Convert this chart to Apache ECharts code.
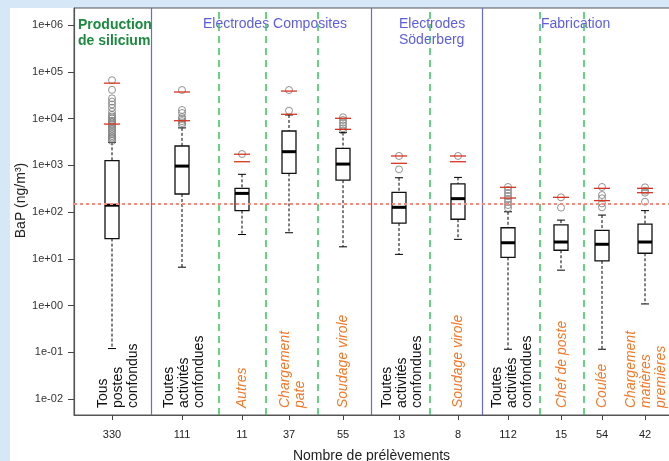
<!DOCTYPE html>
<html>
<head>
<meta charset="utf-8">
<script src="https://cdn.jsdelivr.net/npm/echarts@6/dist/echarts.min.js"></script>
<style>
  html, body { margin: 0; padding: 0; background: #d6e7f8; }
  #paper { position: absolute; left: 10px; top: 8px; width: 700px; height: 500px; background: #fff; }
  #chart { position: absolute; left: 0; top: 0; width: 669px; height: 461px; }
</style>
</head>
<body>
<div id="paper"></div>
<div id="chart"></div>
<script>
// groupes de prelevements
const categories = [
  'Tous\npostes\nconfondus', 'Toutes\nactivités\nconfondues', 'Autres', 'Chargement\npate',
  'Soudage virole', 'Toutes\nactivités\nconfondues', 'Soudage virole',
  'Toutes\nactivités\nconfondues', 'Chef de poste', 'Coulée', 'Chargement\nmatières\npremières'
];
const isSub = [false, false, true, true, true, false, true, false, true, true, true];
const counts = [330, 111, 11, 37, 55, 13, 8, 112, 15, 54, 42];

// [moustache basse, Q1, mediane, Q3, moustache haute]
const boxStats = [
  [0.12, 27, 140, 1250, 3100],
  [6.6, 243, 960, 2580, 6300],
  [33, 107, 250, 320, 640],
  [36, 670, 1950, 5400, 11900],
  [18, 480, 1060, 2300, 5000],
  [12.4, 58, 126, 264, 540],
  [26, 70, 193, 400, 550],
  [0.116, 10.7, 22, 46, 101],
  [5.7, 15.2, 22.8, 53, 67],
  [0.116, 9, 20.4, 40.6, 86],
  [1.08, 13.1, 22.8, 55, 107]
];
const outliers = [
  [66000, 41000, 27000, 23000, 20000, 17000, 14000, 12000, 11000, 10000, 9000, 8500, 7800, 7200, 6600, 6000, 5500, 5000, 4600, 4200, 3900, 3600, 3300],
  [40700, 15200, 13100, 10700, 9800, 8800, 8000, 7300],
  [1740],
  [40700, 14700],
  [10600, 9300, 8150, 7100, 6170, 5500],
  [1580, 818],
  [1580],
  [343, 296, 255, 220, 190, 164, 141, 122],
  [206, 124],
  [343, 231, 196, 153, 126],
  [337, 286, 259, 166]
];
// traits rouges
const redMarks = [
  [57000, 7600], [36900, 8970], [1720, 1190], [38600, 12300], [10100, 5860],
  [1580, 1100], [1580, 1190], [337, 199], [206], [321, 175], [321, 259]
];
const limitValue = 150;
const yTicks = [1e-2, 1e-1, 1, 10, 100, 1e3, 1e4, 1e5, 1e6];
const yMin = 0.00455, yMax = 2.31e6;

// placement horizontal (unites = px depuis l'axe)
const boxPos = [38, 108, 168, 215, 269, 325, 384, 434, 487, 528, 571];
const labelPos = [44, 110, 168, 219, 269, 328, 384, 438, 488, 528, 572];
const groupBreaks = [77, 297, 408];
const subBreaks = [145, 192, 244, 356, 466, 510];

const orange = '#f07a2c';
const blue = '#5d5de0';
const fontFam = '"Liberation Sans", Arial, sans-serif';

const boxData = boxStats.map((s, i) => [boxPos[i]].concat(s));
const outlierData = [];
outliers.forEach((arr, i) => arr.forEach(v => outlierData.push([boxPos[i], v])));
const redData = [];
redMarks.forEach((arr, i) => arr.forEach(v => redData.push([boxPos[i], v])));
const labelData = labelPos.map(p => [p, yMin]);

function fmtExp(v) {
  const e = Math.round(Math.log10(v));
  return '1e' + (e < 0 ? '-' : '+') + String(Math.abs(e)).padStart(2, '0');
}

var chart = echarts.init(document.getElementById('chart'));
var option = {
  animation: false,
  backgroundColor: 'transparent',
  textStyle: { fontFamily: fontFam },
  grid: {
    left: 74, top: 8, width: 615, bottom: 46, outerBoundsMode: 'none', containLabel: false,
    show: true, borderColor: '#555', borderWidth: 1
  },
  graphic: [
    { type: 'text', left: 78, top: 17, style: { text: 'Production\nde silicium', font: 'bold 14px ' + fontFam, fill: '#1c8a3e', lineHeight: 16 } },
    { type: 'text', left: 203, top: 17, style: { text: 'Electrodes Composites', font: '14px ' + fontFam, fill: blue } },
    { type: 'text', left: 399, top: 16, style: { text: 'Electrodes\nSöderberg', font: '14px ' + fontFam, fill: blue, lineHeight: 16 } },
    { type: 'text', left: 541, top: 17, style: { text: 'Fabrication', font: '14px ' + fontFam, fill: blue } }
  ],
  xAxis: {
    type: 'value', min: 0, max: 615,
    name: 'Nombre de prélèvements', nameLocation: 'middle', nameGap: 34, nameMoveOverlap: false,
    nameTextStyle: { fontSize: 14, color: '#222', padding: [0, 20, 0, 0] },
    splitLine: { show: false },
    axisLine: { lineStyle: { color: '#555', width: 1.2 } },
    axisTick: { customValues: boxPos, length: 5, lineStyle: { color: '#444' } },
    axisLabel: {
      customValues: boxPos, margin: 14, fontSize: 11, color: '#222',
      formatter: v => { const i = boxPos.findIndex(p => Math.abs(p - v) < 0.5); return i >= 0 ? String(counts[i]) : ''; }
    }
  },
  yAxis: {
    type: 'log', logBase: 10, min: yMin, max: yMax,
    name: 'BaP (ng/m³)', nameLocation: 'middle', nameGap: 46, nameMoveOverlap: false,
    nameTextStyle: { fontSize: 14, color: '#222', padding: [0, 0, 0, 22] },
    splitLine: { show: false },
    minorTick: { show: false },
    axisLine: { show: true, lineStyle: { color: '#555', width: 1.2 } },
    axisTick: { customValues: yTicks, length: 6, lineStyle: { color: '#444' } },
    axisLabel: { customValues: yTicks, margin: 11, fontSize: 11, color: '#333', formatter: fmtExp }
  },
  series: [
    {
      type: 'scatter', data: [], z: 1, silent: true,
      markLine: {
        symbol: 'none', silent: true, label: { show: false }, animation: false,
        data: groupBreaks.map(v => ({ xAxis: v, lineStyle: { color: '#6a6ad6', type: 'solid', width: 1.2 } }))
          .concat(subBreaks.map(v => ({ xAxis: v, lineStyle: { color: '#36c45a', type: [7, 5], width: 1.5 } })))
          .concat([{ yAxis: limitValue, lineStyle: { color: '#f4897c', type: [3, 3], width: 2 } }])
      }
    },
    {
      type: 'custom', z: 3, silent: true,
      data: boxData,
      encode: { x: 0, y: [1, 2, 3, 4, 5] },
      renderItem: function (params, api) {
        const x = api.value(0);
        const lo = api.coord([x, api.value(1)]);
        const q1 = api.coord([x, api.value(2)]);
        const md = api.coord([x, api.value(3)]);
        const q3 = api.coord([x, api.value(4)]);
        const hi = api.coord([x, api.value(5)]);
        const cx = lo[0], hw = 7, cw = 4;
        const dash = { stroke: '#000', lineWidth: 1, lineDash: [3, 2] };
        const solid = { stroke: '#000', lineWidth: 1 };
        return {
          type: 'group', children: [
            { type: 'line', shape: { x1: cx, y1: hi[1], x2: cx, y2: q3[1] }, style: dash },
            { type: 'line', shape: { x1: cx, y1: q1[1], x2: cx, y2: lo[1] }, style: dash },
            { type: 'line', shape: { x1: cx - cw, y1: hi[1], x2: cx + cw, y2: hi[1] }, style: solid },
            { type: 'line', shape: { x1: cx - cw, y1: lo[1], x2: cx + cw, y2: lo[1] }, style: solid },
            { type: 'rect', shape: { x: cx - hw, y: q3[1], width: 2 * hw, height: q1[1] - q3[1] }, style: { fill: '#fff', stroke: '#111', lineWidth: 1.3 } },
            { type: 'line', shape: { x1: cx - hw, y1: md[1], x2: cx + hw, y2: md[1] }, style: { stroke: '#000', lineWidth: 3 } }
          ]
        };
      }
    },
    {
      type: 'scatter', z: 4, silent: true,
      data: outlierData,
      symbol: 'circle', symbolSize: 7,
      itemStyle: { color: 'rgba(0,0,0,0)', borderColor: '#777', borderWidth: 1 }
    },
    {
      type: 'custom', z: 5, silent: true,
      data: redData,
      encode: { x: 0, y: 1 },
      renderItem: function (params, api) {
        const p = api.coord([api.value(0), api.value(1)]);
        return { type: 'line', shape: { x1: p[0] - 8, y1: p[1], x2: p[0] + 8, y2: p[1] }, style: { stroke: '#d8351f', lineWidth: 1.3 } };
      }
    },
    {
      type: 'custom', z: 6, silent: true,
      data: labelData,
      encode: { x: 0, y: 1 },
      renderItem: function (params, api) {
        const i = params.dataIndex;
        const p = api.coord([api.value(0), api.value(1)]);
        return {
          type: 'text', x: p[0], y: p[1] - 7, rotation: Math.PI / 2,
          style: {
            text: categories[i], align: 'left', verticalAlign: 'middle',
            fill: isSub[i] ? orange : '#111',
            font: (isSub[i] ? 'italic ' : '') + '14px ' + fontFam,
            lineHeight: 15
          }
        };
      }
    }
  ]
};
chart.setOption(option);
</script>
</body>
</html>
